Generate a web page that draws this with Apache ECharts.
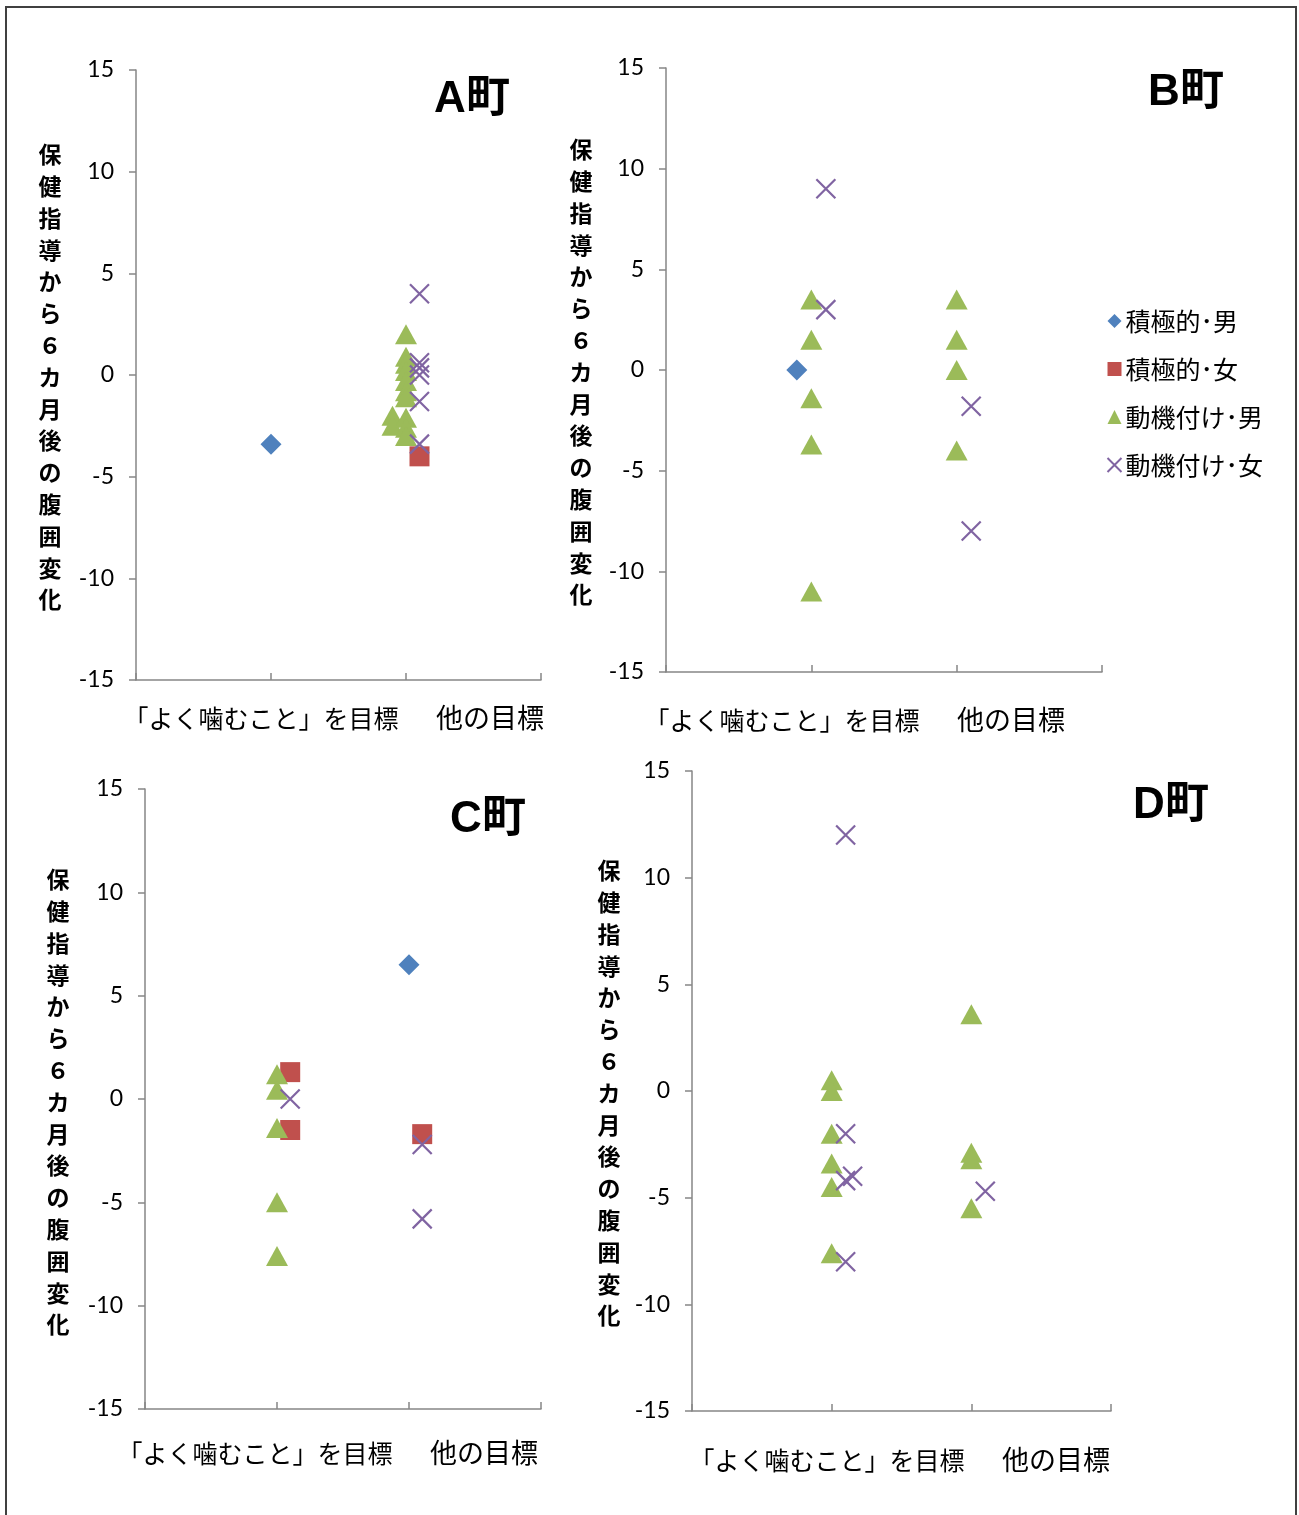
<!DOCTYPE html>
<html>
<head>
<meta charset="utf-8">
<script src="https://cdn.jsdelivr.net/npm/echarts@6/dist/echarts.min.js"></script>
<style>
  html, body { margin: 0; padding: 0; background: #fff; }
  #chart { width: 1299px; height: 1515px; }
</style>
</head>
<body>
<div id="chart"></div>
<script>
// 系列名
const seriesNames = ['積極的･男', '積極的･女', '動機付け･男', '動機付け･女'];
// x軸の目標区分（1: よく噛むこと, 2: 他の目標）
const goalLabels = ['「よく噛むこと」を目標', '他の目標'];
const townNames = ['A町', 'B町', 'C町', 'D町'];
const yTicks = [-15, -10, -5, 0, 5, 10, 15];

// [目標区分(ずらし込み), 腹囲変化]
const aActiveM = [[1, -3.4]];
const aActiveF = [[2.1, -4.0]];
const aMotivM = [[2, 2.0], [2, 0.9], [2, 0.55], [2, 0.2], [2, -0.3], [2, -0.8], [2, -1.1],
  [1.9, -2.0], [1.9, -2.5], [2, -2.1], [2, -2.6], [2, -3.0]];
const aMotivF = [[2.1, 4.0], [2.1, 0.6], [2.1, 0.35], [2.1, 0.0], [2.1, -1.3], [2.1, -3.4]];

const bActiveM = [[0.9, 0.0]];
const bActiveF = [];
const bMotivM = [[1, 3.5], [1, 1.5], [1, -1.4], [1, -3.7], [1, -11.0],
  [2, 3.5], [2, 1.5], [2, 0.0], [2, -4.0]];
const bMotivF = [[1.1, 9.0], [1.1, 3.0], [2.1, -1.8], [2.1, -8.0]];

const cActiveM = [[2, 6.5]];
const cActiveF = [[1.1, 1.3], [1.1, -1.5], [2.1, -1.7]];
const cMotivM = [[1, 1.2], [1, 0.45], [1, -1.4], [1, -5.0], [1, -7.6]];
const cMotivF = [[1.1, 0.0], [2.1, -2.2], [2.1, -5.8]];

const dActiveM = [];
const dActiveF = [];
const dMotivM = [[1, 0.5], [1, 0.0], [1, -2.0], [1, -3.4], [1, -4.5], [1, -7.6],
  [2, 3.6], [2, -2.9], [2, -3.2], [2, -5.5]];
const dMotivF = [[1.1, 12.0], [1.1, -2.0], [1.1, -4.2], [1.15, -4.0], [1.1, -8.0], [2.1, -4.7]];

const townData = [
  [aActiveM, aActiveF, aMotivM, aMotivF],
  [bActiveM, bActiveF, bMotivM, bMotivF],
  [cActiveM, cActiveF, cMotivM, cMotivF],
  [dActiveM, dActiveF, dMotivM, dMotivF]
];

const colors = ['#4f81bd', '#c0504d', '#9bbb59', '#8064a2'];
const crossPath = 'path://M0,0L10,10M10,0L0,10';
const symbols = ['diamond', 'rect', 'triangle', crossPath];
const symbolSizes = [[21, 21], [20, 20], [22, 20], [19, 19]];

// レイアウト
const grids = [
  { left: 136, top: 70, width: 405, height: 610 },
  { left: 666, top: 68, width: 436, height: 604 },
  { left: 145, top: 789, width: 396, height: 620 },
  { left: 692, top: 771, width: 419, height: 640 }
];
const titlePos = [[472, 100], [1186, 93], [488, 820], [1171, 806]];
const yNamePos = [[50, 377], [581, 372], [58, 1102], [609, 1093]];
const goalPos = [
  [[261, 718], [490, 718]],
  [[782, 720], [1011, 720]],
  [[255, 1453], [484, 1453]],
  [[827, 1460], [1056, 1460]]
];

const axisColor = '#868686';
const tickFont = 'Lato, "Liberation Sans", sans-serif';
const jpFont = '"Noto Sans CJK JP", sans-serif';

let xAxes = [], yAxes = [], series = [], graphics = [];

grids.forEach((g, i) => {
  xAxes.push({
    type: 'value', gridIndex: i, min: 0, max: 3, interval: 1,
    axisLine: { onZero: false, lineStyle: { color: axisColor, width: 1.5 } },
    axisTick: { show: true, inside: true, length: 7, lineStyle: { color: axisColor, width: 1.5 } },
    axisLabel: { show: false },
    splitLine: { show: false }
  });
  yAxes.push({
    type: 'value', gridIndex: i, min: yTicks[0], max: yTicks[yTicks.length - 1], interval: 5,
    axisLine: { show: true, onZero: false, lineStyle: { color: axisColor, width: 1.5 } },
    axisTick: { show: true, length: 7, lineStyle: { color: axisColor, width: 1.5 } },
    axisLabel: { color: '#000', fontSize: 23, fontFamily: tickFont, margin: 22 },
    splitLine: { show: false }
  });
  townData[i].forEach((d, k) => {
    const isCross = k === 3;
    series.push({
      name: seriesNames[k],
      type: 'scatter',
      xAxisIndex: i, yAxisIndex: i,
      data: d,
      symbol: symbols[k],
      symbolSize: symbolSizes[k],
      itemStyle: isCross
        ? { color: 'none', borderColor: colors[k], borderWidth: 2.2, opacity: 1 }
        : { color: colors[k], opacity: 1 },
      z: 2 + k
    });
  });
  graphics.push({
    type: 'text', x: titlePos[i][0], y: titlePos[i][1],
    style: {
      text: townNames[i], fill: '#000', textAlign: 'center', textVerticalAlign: 'middle',
      font: 'bold 44px "Liberation Sans", "Noto Sans CJK JP", sans-serif'
    }
  });
  graphics.push({
    type: 'text', x: yNamePos[i][0], y: yNamePos[i][1],
    style: {
      text: '保健指導から６カ月後の腹囲変化'.split('').join('\n'),
      fill: '#000', textAlign: 'center', textVerticalAlign: 'middle',
      font: 'bold 23px ' + jpFont, lineHeight: 31.8
    }
  });
  goalLabels.forEach((t, j) => {
    graphics.push({
      type: 'text', x: goalPos[i][j][0], y: goalPos[i][j][1],
      style: {
        text: t, fill: '#000', textAlign: 'center', textVerticalAlign: 'middle',
        font: (j === 0 ? '25px ' : '27px ') + jpFont
      }
    });
  });
});

graphics.push({
  type: 'rect', shape: { x: 6, y: 7, width: 1290, height: 1512 },
  style: { fill: 'none', stroke: '#404040', lineWidth: 2 }, z: -1
});

const chart = echarts.init(document.getElementById('chart'));
chart.setOption({
  animation: false,
  backgroundColor: '#fff',
  grid: grids,
  xAxis: xAxes,
  yAxis: yAxes,
  legend: {
    orient: 'vertical',
    left: 1100, top: 302,
    itemWidth: 14, itemHeight: 14, itemGap: 20,
    data: seriesNames.map((n, k) => ({ name: n, icon: symbols[k] })),
    textStyle: { fontSize: 25, fontFamily: jpFont, color: '#000', lineHeight: 28, padding: [0, 0, 0, -1] }
  },
  graphic: graphics,
  series: series
});
</script>
</body>
</html>
